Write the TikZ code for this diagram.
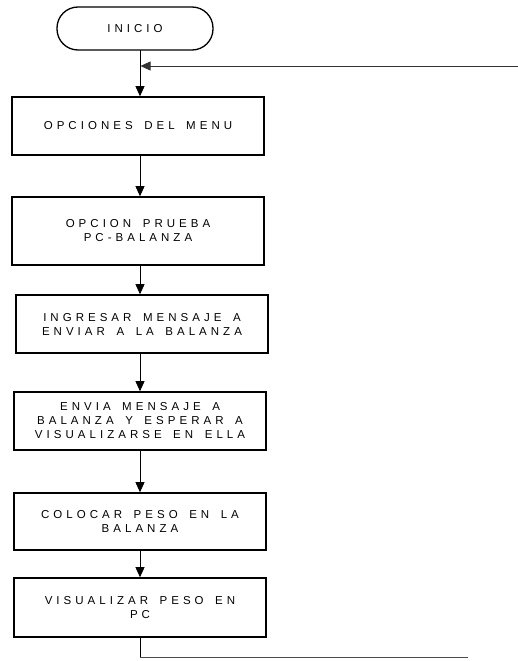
\documentclass[tikz,border=0pt]{standalone}
\usepackage{fontspec}
\setmainfont{Liberation Sans}[LetterSpace=35, WordSpace=1.6]
\usetikzlibrary{arrows.meta}
\pgfdeclarelayer{edgelayer}
\pgfdeclarelayer{nodelayer}
\pgfsetlayers{edgelayer,nodelayer,main}
\tikzstyle{none}=[inner sep=0pt]
\tikzstyle{edge}=[draw=black, line width=0.7pt]
\tikzstyle{flecha}=[draw=black, line width=0.7pt, -{Triangle[width=9pt,length=10pt]}]
\tikzstyle{retorno}=[draw=black!70, line width=0.7pt]
\tikzstyle{caja}=[rectangle, draw=black, line width=1.6pt, fill=white, minimum width=252pt, align=center, font=\fontsize{11.5}{14}\selectfont]
\tikzstyle{terminal}=[rectangle, rounded corners=21pt, draw=black, line width=1.3pt, fill=white, minimum width=156pt, minimum height=43pt, font=\fontsize{11.5}{14}\selectfont]

\begin{document}
\begin{tikzpicture}[x=1pt, y=-1pt]
			\useasboundingbox (0, 0) rectangle (518, 661);
			\begin{pgfonlayer}{nodelayer}
			\node [style=terminal] (0) at (135, 28.5) {INICIO};
			\node [style=caja, minimum height=58pt] (1) at (138, 126) {OPCIONES DEL MENU};
			\node [style=caja, minimum height=68pt] (2) at (138, 231) {OPCION PRUEBA\\PC-BALANZA};
			\node [style=caja, minimum height=58pt] (3) at (142, 324) {INGRESAR MENSAJE A\\ENVIAR A LA BALANZA};
			\node [style=caja, minimum height=58pt] (4) at (140, 421) {ENVIA MENSAJE A\\BALANZA Y ESPERAR A\\VISUALIZARSE EN ELLA};
			\node [style=caja, minimum height=57pt] (5) at (140, 521.5) {COLOCAR PESO EN LA\\BALANZA};
			\node [style=caja, minimum height=59pt] (6) at (140, 607.5) {VISUALIZAR PESO EN\\PC};
			\coordinate (10) at (140, 50);
			\coordinate (11) at (140, 66);
			\coordinate (12) at (518, 66);
			\coordinate (13) at (140, 657);
			\coordinate (14) at (468, 657);
			\end{pgfonlayer}
			\begin{pgfonlayer}{edgelayer}
			\draw [style=flecha] (10) to (1.north -| 10);
			\draw [style=flecha] (1.south -| 10) to (2.north -| 10);
			\draw [style=flecha] (2.south -| 10) to (3.north -| 10);
			\draw [style=flecha] (3.south -| 10) to (4.north -| 10);
			\draw [style=flecha] (4.south -| 10) to (5.north -| 10);
			\draw [style=flecha] (5.south -| 10) to (6.north -| 10);
			\draw [style=edge] (6.south -| 10) to (13);
			\draw [style=retorno] (13) to (14);
			\draw [style=flecha, draw=black!80] (12) to ([xshift=0.5pt]11);
			\end{pgfonlayer}
\end{tikzpicture}
\end{document}
